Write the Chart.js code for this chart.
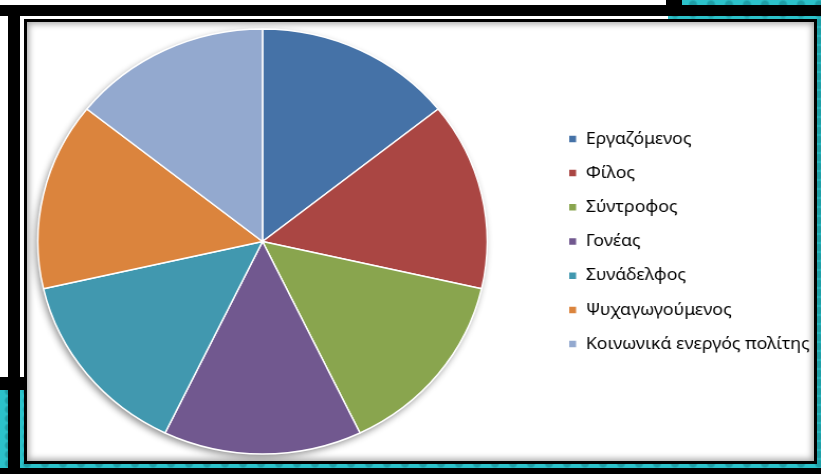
<!DOCTYPE html>
<html>
<head>
<meta charset="utf-8">
<script src="https://cdn.jsdelivr.net/npm/chart.js@4.4.0/dist/chart.umd.min.js"></script>
<style>
  body { margin: 0; width: 821px; height: 474px; position: relative; overflow: hidden;
         background: radial-gradient(circle, #1e9ea6 0 3px, transparent 5px) 0 0 / 18px 9px, #2cc2ca; }
  .paper { position: absolute; left: 0; top: 0; width: 668px; height: 384px; background: #fff; }
  .bar { position: absolute; background: #000; }
  #frame { position: absolute; left: 24px; top: 19px; width: 787px; height: 439px;
           border: 3px solid #000; background: #fff; overflow: hidden;
           box-shadow: inset 0 0 6px 2px rgba(0,0,0,0.35); }
  #wrap { position: absolute; top: 0; height: 439px; transform-origin: 0 0; }
</style>
</head>
<body>
<div class="paper"></div>
<div class="bar" style="left:0;top:5px;width:821px;height:11px"></div>
<div class="bar" style="left:666px;top:0;width:16px;height:16px"></div>
<div class="bar" style="left:8px;top:5px;width:12px;height:469px"></div>
<div class="bar" style="left:0;top:377px;width:27px;height:13px"></div>
<div class="bar" style="left:0;top:468px;width:821px;height:6px"></div>
<div id="frame"><div id="wrap"><canvas id="pie"></canvas></div></div>

<script>
const labels = ['Εργαζόμενος', 'Φίλος', 'Σύντροφος', 'Γονέας', 'Συνάδελφος', 'Ψυχαγωγούμενος', 'Κοινωνικά ενεργός πολίτης'];
const values = [1, 1, 1, 1, 1, 1, 1];
const colors = ['#4572A7', '#AA4643', '#89A54E', '#71588F', '#4198AF', '#DB843D', '#93A9CF'];

const FONT = '"Noto Sans", sans-serif';
const FONT_SIZE = 16.8;
const LEG_PAD = 17.4;
const STRETCH = 1.056;       // the picture is a little wider than tall
const PIE_X = 222;           // pie centre, unstretched, from frame left
const BOX_X = 511;           // first legend square, unstretched

// canvas starts left of the frame so the pie sits off-centre like the picture
const m = document.createElement('canvas').getContext('2d');
m.font = FONT_SIZE + 'px ' + FONT;
const textW = Math.max(...labels.map(t => m.measureText(t).width));
const legendLeft = BOX_X - LEG_PAD;
const origin = 2 * PIE_X - legendLeft;
const legendW = 1.5 * LEG_PAD + 8 + FONT_SIZE / 2 + textW + 2;
const wrap = document.getElementById('wrap');
wrap.style.left = (origin * STRETCH) + 'px';
wrap.style.width = (legendLeft - origin + legendW) + 'px';
wrap.style.transform = 'scaleX(' + STRETCH + ')';

const pieShadow = {
    id: 'pieShadow',
    beforeDatasetsDraw(chart) {
        const arc = chart.getDatasetMeta(0).data[0];
        if (!arc) return;
        const ctx = chart.ctx;
        ctx.save();
        ctx.shadowColor = 'rgba(0,0,0,0.45)';
        ctx.shadowBlur = 7;
        ctx.shadowOffsetX = -2;
        ctx.shadowOffsetY = 3;
        ctx.fillStyle = '#fff';
        ctx.beginPath();
        ctx.arc(arc.x, arc.y, arc.outerRadius, 0, Math.PI * 2);
        ctx.fill();
        ctx.restore();
    }
};

new Chart(document.getElementById('pie'), {
    type: 'pie',
    data: {
        labels: labels,
        datasets: [{
            data: values,
            backgroundColor: colors,
            borderColor: '#fff',
            borderWidth: 1.5,
            hoverOffset: 0,
            radius: 212.5
        }]
    },
    options: {
        responsive: true,
        maintainAspectRatio: false,
        animation: false,
        layout: { padding: { left: 0, right: 0, top: 1, bottom: 1 } },
        plugins: {
            tooltip: { enabled: false },
            legend: {
                position: 'right',
                labels: {
                    boxWidth: 8,
                    boxHeight: 8,
                    padding: LEG_PAD,
                    color: '#000',
                    font: { family: FONT, size: FONT_SIZE }
                }
            }
        }
    },
    plugins: [pieShadow]
});
</script>
</body>
</html>
